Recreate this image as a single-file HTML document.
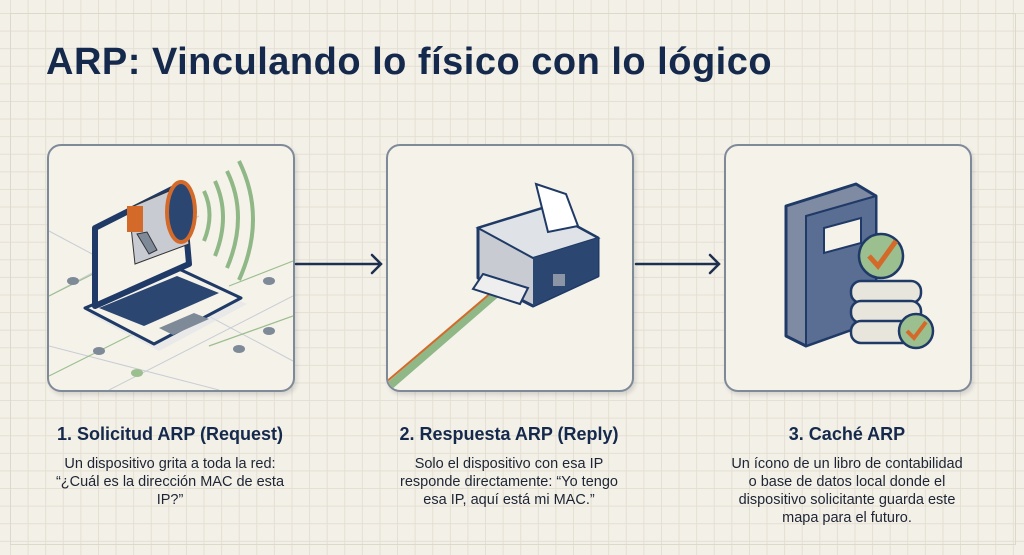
<!DOCTYPE html>
<html><head><meta charset="utf-8"><style>
body{margin:0;width:1024px;height:555px;overflow:hidden;background:#f3f0e8;font-family:"Liberation Sans",sans-serif;}
.bg{position:absolute;left:0;top:0;width:1024px;height:555px;
background-color:#f3f0e8;
background-image:linear-gradient(#e4dfd3 1px,transparent 1px),linear-gradient(90deg,#e4dfd3 1px,transparent 1px);
background-size:17.6px 17.6px;background-position:10px 13px;}
.frame{position:absolute;left:10px;top:13px;width:1004px;height:530px;border:1px solid #ddd8cc;}
h1{position:absolute;left:46px;top:41px;margin:0;font-size:38px;font-weight:bold;color:#14294b;letter-spacing:0.5px}
.card{position:absolute;top:144px;width:244px;height:244px;border:2px solid #7f8a99;border-radius:14px;background:#f5f2ea;box-shadow:2px 3px 4px rgba(0,0,0,.12);overflow:hidden}
.h{position:absolute;top:424px;width:300px;text-align:center;font-size:18px;font-weight:bold;color:#14294b}
.t{position:absolute;top:455px;width:300px;text-align:center;font-size:14.5px;line-height:18px;color:#1d2433}
</style></head><body>
<div class="bg"></div><div class="frame"></div>
<h1>ARP: Vinculando lo físico con lo lógico</h1>

<div class="card" style="left:47px">
<svg width="244" height="244" viewBox="0 0 244 244">
<g stroke="#c9cdd3" stroke-width="1" fill="none">
<path d="M0 85 L244 215 M0 200 L170 244 M60 244 L244 150 M0 150 L150 70"/></g>
<g stroke="#9cbf8f" stroke-width="1.2" fill="none"><path d="M0 150 L100 100 M0 230 L120 170 M180 140 L244 115 M160 200 L244 170"/></g>
<g fill="#7f8a99"><ellipse cx="24" cy="135" rx="6" ry="4"/><ellipse cx="220" cy="135" rx="6" ry="4"/><ellipse cx="50" cy="205" rx="6" ry="4"/><ellipse cx="190" cy="203" rx="6" ry="4"/><ellipse cx="220" cy="185" rx="6" ry="4"/></g>
<ellipse cx="88" cy="227" rx="6" ry="4" fill="#9cbf8f"/>
<path d="M40 168 L130 128 L198 158 L110 205 Z" fill="#dfe2e6" opacity=".6"/>
<path d="M36 162 L130 123 L192 152 L105 198 Z" fill="#f5f2ea" stroke="#1f3a66" stroke-width="3" stroke-linejoin="round"/>
<path d="M50 162 L128 130 L170 147 L95 180 Z" fill="#2c4672"/>
<path d="M110 182 L145 167 L160 173 L124 189Z" fill="#7f8a99"/>
<path d="M46 82 L133 38 L140 118 L46 160 Z" fill="#f5f2ea" stroke="#1f3a66" stroke-width="6" stroke-linejoin="round"/>
<path d="M80 62 L132 40 L140 98 L86 118 Z" fill="#c8ccd2" stroke="#333" stroke-width="1"/>
<rect x="78" y="60" width="16" height="26" fill="#d46a2a"/>
<path d="M88 88 L100 108 L108 104 L98 86Z" fill="#7f8a99" stroke="#333" stroke-width="1"/>
<ellipse cx="132" cy="66" rx="14" ry="30" fill="#2c4672" stroke="#d46a2a" stroke-width="4"/>
<g stroke="#8fb886" stroke-width="4" fill="none"><path d="M155 45 Q166 68 155 95"/><path d="M166 35 Q182 70 166 110"/><path d="M178 25 Q200 70 178 122"/><path d="M190 15 Q218 72 190 134"/></g>
</svg></div>

<div class="card" style="left:386px">
<svg width="244" height="244" viewBox="0 0 244 244">
<path d="M-10 250 L125 133" stroke="#8fb886" stroke-width="8"/><path d="M-10 243 L125 128" stroke="#d46a2a" stroke-width="2"/>
<path d="M90 82 L155 62 L210 92 L210 130 L145 160 L90 132 Z" fill="#c8ccd2" stroke="#1f3a66" stroke-width="3" stroke-linejoin="round"/>
<path d="M90 82 L155 62 L210 92 L145 112 Z" fill="#dfe2e6" stroke="#1f3a66" stroke-width="2"/>
<path d="M145 112 L210 92 L210 130 L145 160Z" fill="#2c4672"/>
<rect x="165" y="128" width="12" height="12" fill="#8b95a6"/>
<path d="M148 38 L178 48 L190 80 L160 86Z" fill="#fff" stroke="#1f3a66" stroke-width="2"/>
<path d="M95 128 L140 142 L132 158 L85 143Z" fill="#eee" stroke="#1f3a66" stroke-width="2"/>
</svg></div>

<div class="card" style="left:724px">
<svg width="244" height="244" viewBox="0 0 244 244">
<path d="M60 60 L130 38 L150 50 L150 175 L80 200 L60 190 Z" fill="#7f8aa3" stroke="#1f3a66" stroke-width="3" stroke-linejoin="round"/>
<path d="M80 70 L150 50 L150 175 L80 200Z" fill="#5a6d93" stroke="#1f3a66" stroke-width="2"/>
<path d="M98 82 L135 72 L135 97 L98 107Z" fill="#f5f2ea" stroke="#1f3a66" stroke-width="2"/>
<g stroke="#1f3a66" stroke-width="2.5" fill="#e8e5dc">
<rect x="125" y="135" width="70" height="22" rx="10"/><rect x="125" y="155" width="70" height="22" rx="10"/><rect x="125" y="175" width="70" height="22" rx="10"/></g>
<circle cx="155" cy="110" r="22" fill="#9cbf8f" stroke="#1f3a66" stroke-width="2.5"/>
<path d="M143 110 L152 120 L170 95" stroke="#d46a2a" stroke-width="5" fill="none"/>
<circle cx="190" cy="185" r="17" fill="#9cbf8f" stroke="#1f3a66" stroke-width="2.5"/>
<path d="M181 185 L188 192 L200 176" stroke="#d46a2a" stroke-width="4" fill="none"/>
</svg></div>

<svg style="position:absolute;left:0;top:0" width="1024" height="555">
<g stroke="#1f2f4f" stroke-width="2.5" fill="none" stroke-linecap="round">
<path d="M296 264 L381 264 M372 255 L381 264 L372 273"/>
<path d="M636 264 L719 264 M710 255 L719 264 L710 273"/></g></svg>

<div class="h" style="left:20px">1. Solicitud ARP (Request)</div>
<div class="t" style="left:20px">Un dispositivo grita a toda la red:<br>“¿Cuál es la dirección MAC de esta<br>IP?”</div>
<div class="h" style="left:359px">2. Respuesta ARP (Reply)</div>
<div class="t" style="left:359px">Solo el dispositivo con esa IP<br>responde directamente: “Yo tengo<br>esa IP, aquí está mi MAC.”</div>
<div class="h" style="left:697px">3. Caché ARP</div>
<div class="t" style="left:697px">Un ícono de un libro de contabilidad<br>o base de datos local donde el<br>dispositivo solicitante guarda este<br>mapa para el futuro.</div>
</body></html>
